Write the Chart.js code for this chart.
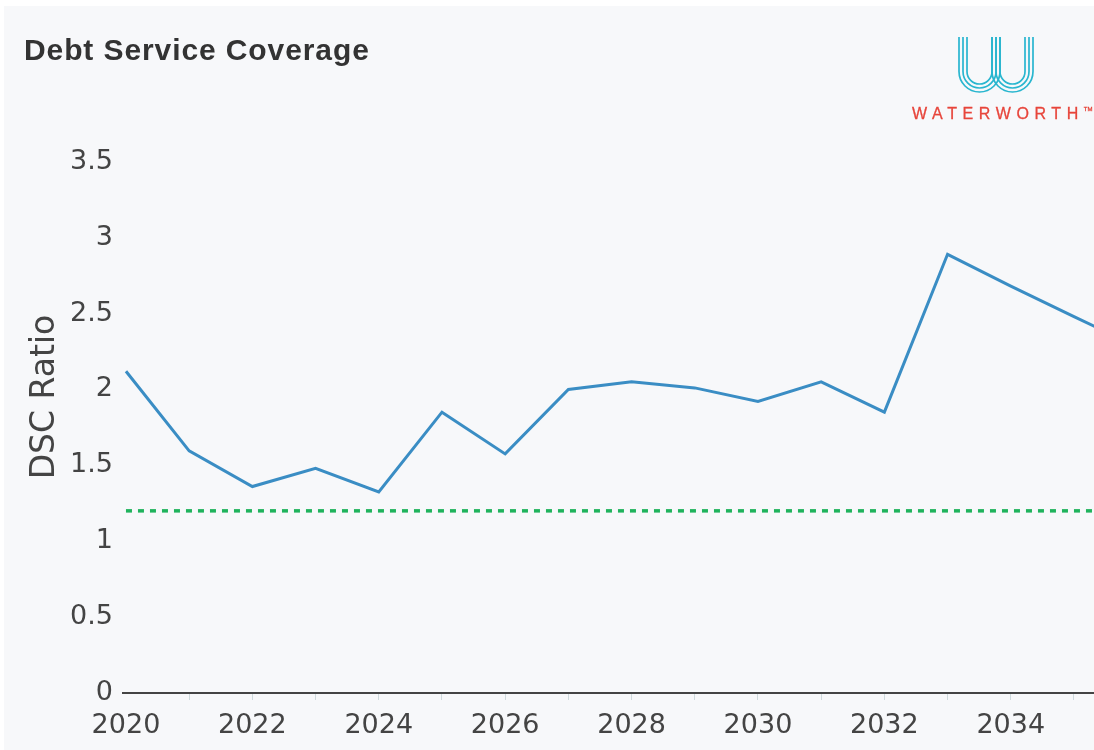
<!DOCTYPE html>
<html lang="en">
<head>
  <meta charset="UTF-8">
  <title>Debt Service Coverage</title>
  <script src="https://cdn.jsdelivr.net/npm/chart.js"></script>
  <style>
    body {
      margin: 0;
      background: #fff;
      width: 1094px;
      height: 750px;
      overflow: hidden;
      position: relative;
    }

    .panel {
      position: absolute;
      left: 4px;
      top: 6px;
      width: 1090px;
      height: 744px;
      background: #f7f8fa;
    }

    .chart-box {
      position: absolute;
      left: 0;
      top: 0;
      width: 1094px;
      height: 750px;
    }

    .title {
      position: absolute;
      left: 24px;
      top: 35px;
      margin: 0;
      font-family: "Liberation Sans", Arial, sans-serif;
      font-size: 30px;
      line-height: 1;
      font-weight: 700;
      letter-spacing: 0.9px;
      color: #333;
    }

    .logo {
      position: absolute;
      left: 950px;
      top: 30px;
    }

    .brand {
      position: absolute;
      left: 912px;
      top: 106px;
      font-family: "Liberation Sans", Arial, sans-serif;
      font-size: 16px;
      line-height: 1;
      letter-spacing: 5.6px;
      color: #e7453b;
      -webkit-text-stroke: 0.3px #e7453b;
    }

    .brand sup {
      font-size: 6px;
      letter-spacing: 0;
      vertical-align: 8px;
    }
  </style>
</head>
<body>
  <div class="panel"></div>
  <div class="chart-box">
    <canvas id="dsc-chart" width="1094" height="750"></canvas>
  </div>
  <h2 class="title">Debt Service Coverage</h2>

  <svg class="logo" width="90" height="70" viewBox="950 30 90 70" fill="none" stroke="#29b6cf" stroke-width="1.7">
    <path d="M959 37 V71.5 A20.5 20.5 0 0 0 1000 71.5 V37"/>
    <path d="M963 37 V71.5 A16.5 16.5 0 0 0 996 71.5 V37"/>
    <path d="M967 37 V71.5 A12.5 12.5 0 0 0 992 71.5 V37"/>
    <path d="M992 37 V71.5 A20.5 20.5 0 0 0 1033 71.5 V37"/>
    <path d="M996 37 V71.5 A16.5 16.5 0 0 0 1029 71.5 V37"/>
    <path d="M1000 37 V71.5 A12.5 12.5 0 0 0 1025 71.5 V37"/>
  </svg>
  <div class="brand">WATERWORTH<sup>TM</sup></div>

  <script>
    // Chart data
    const years = [2020, 2021, 2022, 2023, 2024, 2025, 2026, 2027, 2028, 2029, 2030, 2031, 2032, 2033, 2034, 2035, 2036];
    const dscRatio = [2.12, 1.595, 1.36, 1.48, 1.325, 1.85, 1.575, 2.0, 2.05, 2.01, 1.92, 2.05, 1.85, 2.89, 2.68, 2.48, 2.28];
    const minCoverage = 1.2;
    const xTickYears = [2020, 2021, 2022, 2023, 2024, 2025, 2026, 2027, 2028, 2029, 2030, 2031, 2032, 2033, 2034, 2035];
    const yTickValues = [0, 0.5, 1, 1.5, 2, 2.5, 3, 3.5];

    const tickFont = { family: "'DejaVu Sans', Verdana, sans-serif", size: 27 };

    const ctx = document.getElementById('dsc-chart').getContext('2d');
    const chart = new Chart(ctx, {
      type: 'line',
      data: {
        datasets: [
          {
            label: 'DSC Ratio',
            data: years.map((y, i) => ({ x: y, y: dscRatio[i] })),
            borderColor: '#3a8dc4',
            borderWidth: 3,
            pointRadius: 0,
            tension: 0
          },
          {
            label: 'Minimum',
            data: [{ x: years[0], y: minCoverage }, { x: years[years.length - 1], y: minCoverage }],
            borderColor: '#1fb35c',
            borderWidth: 3.5,
            borderDash: [6, 6],
            pointRadius: 0
          }
        ]
      },
      options: {
        responsive: false,
        animation: false,
        events: [],
        layout: {
          padding: { left: 21, top: 101, right: 0, bottom: 0 }
        },
        plugins: {
          legend: { display: false },
          tooltip: { enabled: false }
        },
        scales: {
          x: {
            type: 'linear',
            min: 2019.953,
            max: 2035.317,
            afterBuildTicks: (scale) => {
              scale.ticks = xTickYears.map(v => ({ value: v }));
            },
            afterFit: (scale) => {
              scale.height = 57;
            },
            grid: {
              display: true,
              drawOnChartArea: false,
              drawTicks: true,
              tickLength: 7,
              color: (c) => (c.tick && c.tick.value === 2020) ? 'rgba(0,0,0,0)' : '#cfdadd',
              lineWidth: 1
            },
            border: {
              display: true,
              color: '#444',
              width: 2
            },
            ticks: {
              autoSkip: false,
              maxRotation: 0,
              padding: 10,
              color: '#444',
              font: tickFont,
              callback: (v) => (v % 2 === 0 ? String(v) : '')
            }
          },
          y: {
            min: 0,
            max: 3.9,
            afterBuildTicks: (scale) => {
              scale.ticks = yTickValues.map(v => ({ value: v }));
            },
            afterFit: (scale) => {
              scale.width = 102;
            },
            grid: { display: false, drawTicks: false },
            border: { display: false },
            ticks: {
              padding: 10,
              color: '#444',
              font: tickFont,
              callback: (v) => String(v)
            },
            title: {
              display: true,
              text: 'DSC Ratio',
              color: '#444',
              font: { family: "'DejaVu Sans', Verdana, sans-serif", size: 33 },
              padding: { top: 5, bottom: 4 }
            }
          }
        }
      }
    });
  </script>
</body>
</html>
